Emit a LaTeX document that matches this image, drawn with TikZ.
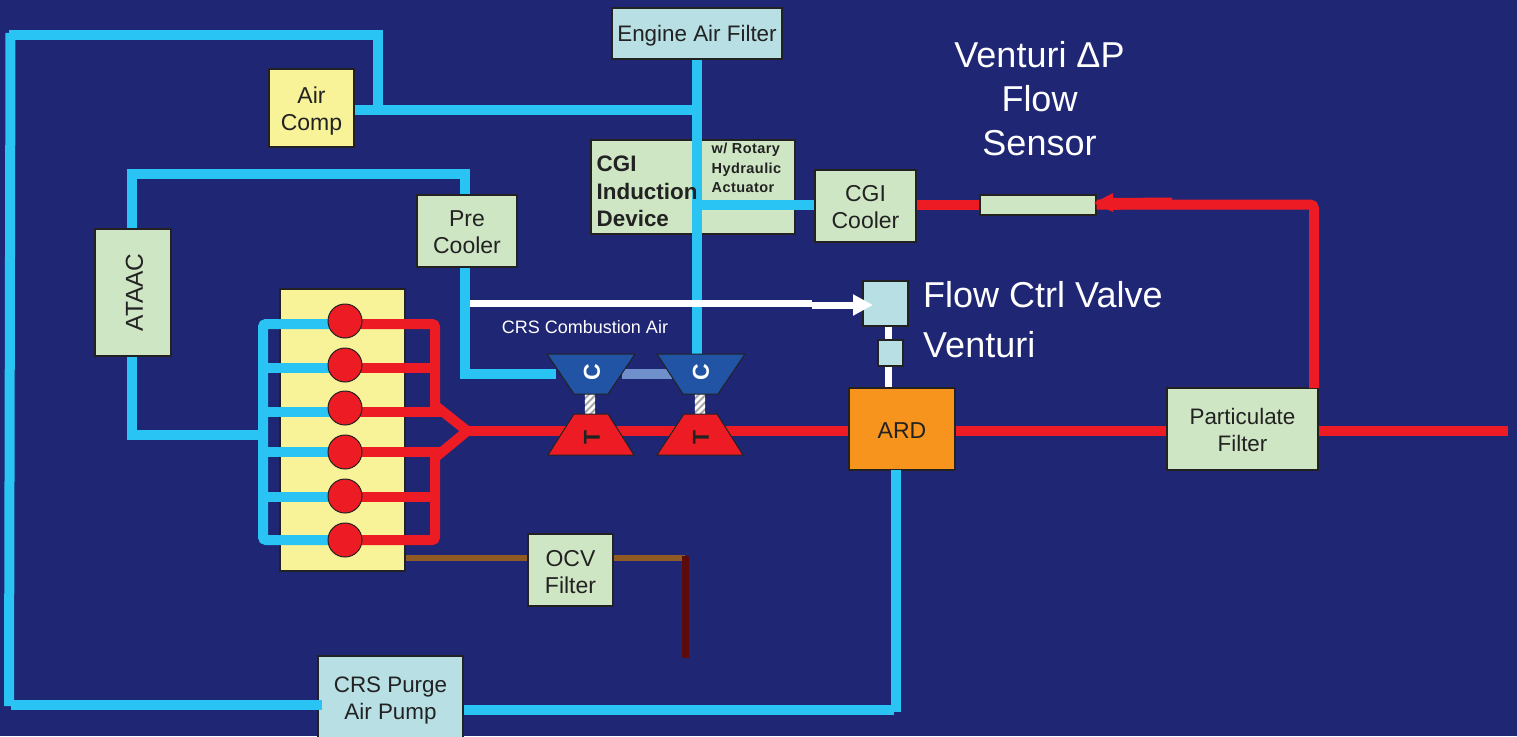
\documentclass[tikz,border=0pt]{standalone}
\usepackage{fontspec}
\usepackage{graphicx}
\setmainfont{Liberation Sans}
\usetikzlibrary{arrows.meta,calc}
\definecolor{bgc}{HTML}{1F2674}
\definecolor{bluel}{HTML}{2AC4F4}
\definecolor{redl}{HTML}{ED1C24}
\definecolor{greenb}{HTML}{CFE6C4}
\definecolor{yellowb}{HTML}{F8F298}
\definecolor{lightb}{HTML}{B7DFE4}
\definecolor{orangeb}{HTML}{F7941D}
\definecolor{compb}{HTML}{2154A4}
\definecolor{linkb}{HTML}{7090CC}
\definecolor{brownl}{HTML}{8F5A24}
\definecolor{darkr}{HTML}{5C0A0A}
\definecolor{inkc}{HTML}{222222}
\newcommand{\fs}[1]{\fontsize{#1}{#1}\selectfont}
\tikzset{
 basebox/.style={draw=inkc,line width=1.3pt,inner sep=0pt},
 btext/.style={inner sep=0pt,align=center,text=inkc,font=\fs{23},yshift=-2pt,execute at begin node={\setlength{\baselineskip}{27pt}}},
 btsmall/.style={btext,font=\fs{22.4}},
 gbox/.style={basebox,fill=greenb},
 ybox/.style={basebox,fill=yellowb},
 lbox/.style={basebox,fill=lightb},
 obox/.style={basebox,fill=orangeb},
 bpipe/.style={draw=bluel,line width=10pt},
 rpipe/.style={draw=redl,line width=10pt},
 wpipe/.style={draw=white,line width=7pt},
 cyl/.style={circle,draw=inkc,line width=1pt,fill=redl,minimum size=34pt,inner sep=0pt},
 comp/.style={draw=inkc,line width=1pt,fill=compb},
 turb/.style={draw=inkc,line width=1pt,fill=redl},
 shaftbar/.style={fill=gray!70,draw=none,minimum width=10pt,minimum height=20pt,inner sep=0pt},
 wtext/.style={text=white,inner sep=0pt,align=center},
 tlabel/.style={inner sep=0pt,font=\bfseries\fs{23},rotate=90},
}
\begin{document}
\begin{tikzpicture}[x=1pt,y=-1pt]
\clip (0,0) rectangle (1517,736);
\fill[bgc] (0,0) rectangle (1517,736);
% boxes
\node[lbox,minimum width=170pt,minimum height=51pt,label={[btsmall]center:Engine Air Filter}] (efilter) at (697,33.5) {};
\node[ybox,minimum width=85pt,minimum height=78pt,label={[btext,yshift=-1pt]center:Air\\Comp}] (aircomp) at (311.5,108) {};
\node[gbox,minimum width=204pt,minimum height=94pt] (cgi) at (693,187) {};
\node[gbox,minimum width=101pt,minimum height=72pt,label={[btext,yshift=1pt]center:CGI\\Cooler}] (cgicool) at (865.5,206) {};
\node[gbox,minimum width=116pt,minimum height=20pt] (sensor) at (1038,205) {};
\node[gbox,minimum width=100pt,minimum height=72pt,label={[btext,yshift=1pt]center:Pre\\Cooler}] (precool) at (467,231) {};
\node[gbox,minimum width=76pt,minimum height=127pt,label={[btext,font=\fs{24.5},yshift=2pt,xshift=1.5pt]center:\rotatebox{90}{ATAAC}}] (ataac) at (133,292.5) {};
\node[ybox,minimum width=125pt,minimum height=282pt] (engine) at (342.5,430) {};
\node[lbox,minimum width=45pt,minimum height=45pt] (valve) at (885.5,303.5) {};
\node[lbox,minimum width=25pt,minimum height=26pt] (venturi) at (890.5,353) {};
\node[obox,minimum width=106pt,minimum height=82pt,label={[btext]center:ARD}] (ard) at (902,429) {};
\node[gbox,minimum width=151pt,minimum height=82pt,label={[btsmall,yshift=1pt]center:Particulate\\Filter}] (pfilter) at (1242.5,429) {};
\node[gbox,minimum width=85pt,minimum height=72pt,label={[btext]center:OCV\\Filter}] (ocv) at (570.5,570) {};
\node[lbox,minimum width=145pt,minimum height=92pt,label={[btsmall,yshift=4pt]center:CRS Purge\\Air Pump}] (purge) at (390.5,702) {};
% junction coordinates
\coordinate (jtop) at (378,110);
\coordinate (jfilter) at (697,110);
\coordinate (jcgi) at (697,205);
\coordinate (c2top) at (697,356);
\coordinate (ltopcorner) at (9,34.5);
\coordinate (ltop) at (10.5,33);
\coordinate (rtop) at (378,34.5);
\coordinate (rtopend) at (383,34.5);
\coordinate (lbot) at (9,706);
\coordinate (lpurge) at (11,705);
\coordinate (pc1) at (132,174);
\coordinate (pc2) at (465,174);
\coordinate (pc3) at (465,374);
\coordinate (c1in) at (556,374);
\coordinate (c1out) at (622,374);
\coordinate (c2in) at (672,374);
\coordinate (ata) at (132,435);
\coordinate (manin) at (263,435);
\coordinate (mt) at (263,324);
\coordinate (mb) at (263,540);
\coordinate (exhtop) at (435,324);
\coordinate (exhu) at (435,412);
\coordinate (exhl) at (435,452);
\coordinate (exhb) at (435,540);
\coordinate (merge) at (470,431);
\coordinate (outlet) at (1508,431);
\coordinate (pftap) at (1314,388);
\coordinate (pfcorner) at (1314,204.5);
\coordinate (ardout) at (896,470);
\coordinate (ardcorner) at (896,712);
\coordinate (ardleft) at (894,710);
\coordinate (wstart) at (470,303.5);
\coordinate (wmid) at (812,303.5);
\coordinate (wmid2) at (812,305);
\coordinate (wtip) at (873,305);
\coordinate (dtop) at (685,556);
\coordinate (dbot) at (685,658);
% blue pipes
\draw[bpipe] (aircomp.east |- jtop) -- (jfilter);
\draw[bpipe] (efilter.south) -- (c2top);
\draw[bpipe] (jcgi) -- (cgicool.west |- jcgi);
\draw[bpipe] (rtop) -- (jtop);
\draw[bpipe] (ltopcorner) -- (rtopend);
\draw[bpipe] (ltop) -- (lbot);
\draw[bpipe] (lpurge) -- ($(purge.west |- lpurge)+(5,0)$);
\draw[bpipe] (ataac.north -| pc1) -- (pc1) -- (pc2) -- (precool.north -| pc2);
\draw[bpipe] (precool.south -| pc2) -- (pc3) -- (c1in);
\draw[bpipe] (ataac.south -| ata) -- (ata) -- (manin);
\draw[draw=linkb,line width=10pt] (c1out) -- (c2in);
\draw[bpipe,rounded corners=3pt] (345,324) -- (mt) -- (mb) -- (345,540);
\foreach \y in {368,412,452,497} \draw[bpipe] (263,\y) -- (345,\y);
% red pipes
\draw[rpipe,rounded corners=3pt] (345,324) -- (exhtop) -- (exhu);
\draw[rpipe,rounded corners=3pt] (exhl) -- (exhb) -- (345,540);
\draw[rpipe] (345,412) -- (441,412);
\draw[rpipe] (345,452) -- (441,452);
\draw[rpipe] (345,368) -- (435,368);
\draw[rpipe] (345,497) -- (435,497);
\draw[rpipe] (437,407) -- (466,430);
\draw[rpipe] (437,456) -- (466,432);
\draw[rpipe] (462,431) -- (merge) -- (ard.west |- merge);
\draw[rpipe] (ard.east |- merge) -- (pfilter.west |- merge);
\draw[rpipe] (pfilter.east |- outlet) -- (outlet);
\draw[rpipe,rounded corners=4pt] (pftap) -- (pfcorner) -- (sensor.east |- pfcorner);
\draw[rpipe] (cgicool.east |- sensor) -- (sensor.west);
\fill[redl] (1094,203) -- (1113,193) -- (1113,198) -- (1172,197.5) -- (1172,206) -- (1113,210) -- (1113,212) -- cycle;
% brown
\draw[draw=brownl,line width=6pt] (engine.east |- 0,558) -- (ocv.west |- 0,558);
\draw[draw=brownl,line width=6pt] (ocv.east |- 0,558) -- (685,558);
\draw[draw=darkr,line width=7pt] (dtop) -- (dbot);
% white
\draw[wpipe] (wstart) -- (wmid);
\draw[wpipe,-{Triangle[length=20pt,width=20pt]}] (wmid2) -- (wtip);
\draw[wpipe] (valve.south -| 888,0) -- (venturi.north -| 888,0);
\draw[wpipe] (venturi.south -| 888,0) -- (ard.north -| 888,0);
% ARD to purge
\draw[bpipe] (ardout) -- (ardcorner);
\draw[bpipe] (ardleft) -- (purge.east |- ardleft);
% cylinders
\node[cyl] (cy1) at (345,321) {};
\node[cyl] (cy2) at (345,365) {};
\node[cyl] (cy3) at (345,408) {};
\node[cyl] (cy4) at (345,452) {};
\node[cyl] (cy5) at (345,496) {};
\node[cyl] (cy6) at (345,540) {};
% shafts
\node[shaftbar] (shaft1) at (590,404) {};
\node[shaftbar] (shaft2) at (700,404) {};
\foreach \s in {shaft1,shaft2}{
 \begin{scope}
 \clip (\s.south west) rectangle (\s.north east);
 \foreach \d in {-14,-7,0,7,14}
  \draw[white,line width=2.6pt] ($(\s.center)+(-8,\d+8)$) -- ($(\s.center)+(8,\d-8)$);
 \end{scope}
}
% turbomachines
\draw[comp] (547,354) -- (635,354) -- (608,394) -- (574,394) -- cycle;
\draw[comp] (657,354) -- (745,354) -- (718,394) -- (683,394) -- cycle;
\draw[turb] (574,414) -- (608,414) -- (634,455) -- (548,455) -- cycle;
\draw[turb] (684,414) -- (717,414) -- (743,455) -- (657,455) -- cycle;
\node[tlabel,text=white] (cc1) at (592,372) {C};
\node[tlabel,text=white] (cc2) at (701,372) {C};
\node[tlabel,text=inkc] (tt1) at (592,437) {T};
\node[tlabel,text=inkc] (tt2) at (701,437) {T};
% texts
\node[anchor=west,inner sep=0pt,align=left,text=inkc,font=\bfseries\fs{22.4},execute at begin node={\setlength{\baselineskip}{27.5pt}}] (cgit) at (596.5,191.5) {CGI\\Induction\\Device};
\node[anchor=west,inner sep=0pt,align=left,text=inkc,font=\bfseries\fs{14.5}\addfontfeatures{LetterSpace=3},execute at begin node={\setlength{\baselineskip}{19.5pt}}] (cgir) at (711.5,168) {w/ Rotary\\Hydraulic\\Actuator};
\node[wtext,font=\fs{36},execute at begin node={\setlength{\baselineskip}{44pt}}] (vtxt) at (1039.5,99) {Venturi ΔP\\Flow\\Sensor};
\node[wtext,anchor=west,font=\fs{36}] (fcv) at (923,295) {Flow Ctrl Valve};
\node[wtext,anchor=west,font=\fs{36}] (vent) at (923,345) {Venturi};
\node[wtext,font=\fs{18}] (crs) at (585,327) {CRS Combustion Air};
\end{tikzpicture}
\end{document}
